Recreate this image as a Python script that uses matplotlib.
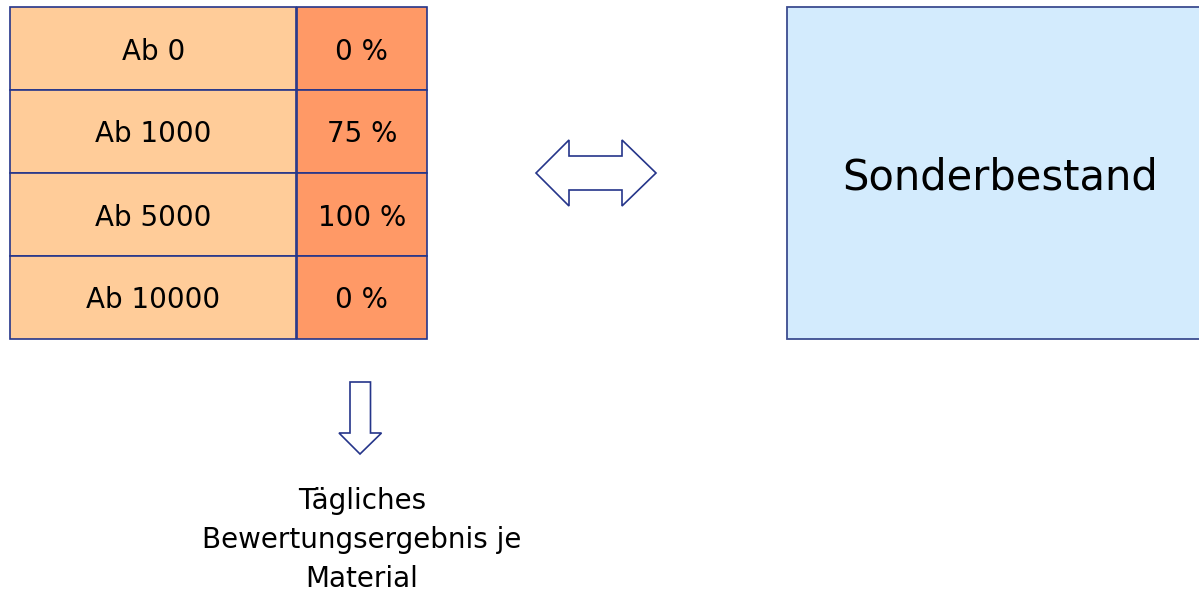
import matplotlib
matplotlib.use('Agg')
import matplotlib.pyplot as plt
import matplotlib.patches as patches

# --- data ---
stufen = ['Ab 0', 'Ab 1000', 'Ab 5000', 'Ab 10000']
anteile = ['0 %', '75 %', '100 %', '0 %']
ziel = 'Sonderbestand'
ergebnis = ['Tägliches', 'Bewertungsergebnis je', 'Material']

# --- colours ---
c_left = '#FFCC99'
c_right = '#FF9966'
c_box = '#D3EBFD'
c_edge = '#25358A'

W, H = 1199, 591
fig = plt.figure(figsize=(W / 100, H / 100), dpi=100, facecolor='white')
ax = fig.add_axes([0, 0, 1, 1])
ax.set_xlim(0, W)
ax.set_ylim(H, 0)
ax.axis('off')

# --- table ---
x0, x_mid, x1 = 10, 296.5, 427
y_top, row_h = 7, 83
for i, (s, a) in enumerate(zip(stufen, anteile)):
    y = y_top + i * row_h
    ax.add_patch(patches.Rectangle((x0, y), x_mid - x0 - 0.5, row_h,
                                   facecolor=c_left, edgecolor=c_edge, lw=1.2))
    ax.add_patch(patches.Rectangle((x_mid + 0.5, y), x1 - x_mid - 0.5, row_h,
                                   facecolor=c_right, edgecolor=c_edge, lw=1.2))
    ax.text((x0 + x_mid) / 2, y + row_h / 2 + 3, s, ha='center', va='center',
            fontsize=20, color='black')
    ax.text((x_mid + x1) / 2, y + row_h / 2 + 3, a, ha='center', va='center',
            fontsize=20, color='black')

# --- right box (runs off the right edge) ---
ax.add_patch(patches.Rectangle((787, 7), 430, 332, facecolor=c_box,
                               edgecolor='#3C4C90', lw=1.3, clip_on=True))
ax.text(1000, 177, ziel, ha='center', va='center', fontsize=30, color='black')

# --- double arrow ---
dbl = [(536, 173), (569, 140), (569, 156), (622, 156), (622, 140), (656, 173),
       (622, 206), (622, 190), (569, 190), (569, 206)]
ax.add_patch(patches.Polygon(dbl, closed=True, facecolor='white',
                             edgecolor=c_edge, lw=1.2))

# --- down arrow ---
down = [(350, 382), (370.5, 382), (370.5, 433), (381.5, 433), (360, 454),
        (339, 433), (350, 433)]
ax.add_patch(patches.Polygon(down, closed=True, facecolor='white',
                             edgecolor=c_edge, lw=1.2))

# --- result text ---
for k, line in enumerate(ergebnis):
    ax.text(362, 501 + k * 39, line, ha='center', va='center',
            fontsize=20, color='black')

plt.savefig('out.png', dpi=100, facecolor='white')
